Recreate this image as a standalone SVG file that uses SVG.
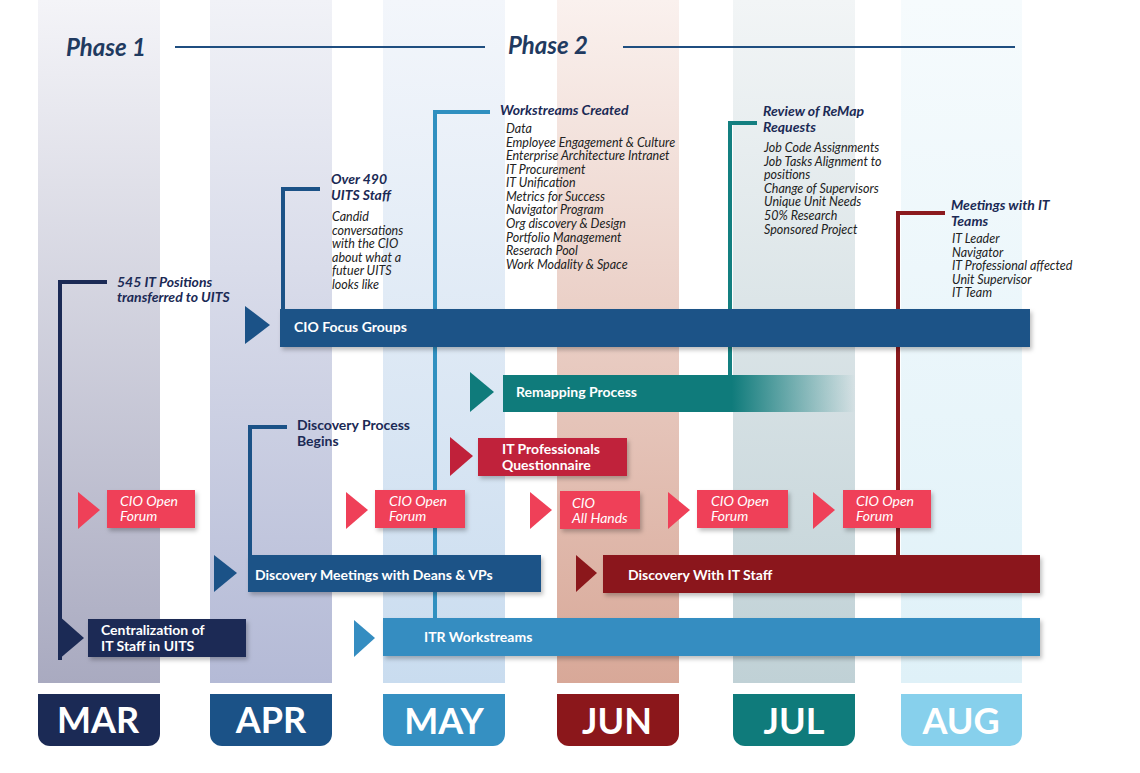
<svg xmlns="http://www.w3.org/2000/svg" width="1140" height="773" viewBox="0 0 1140 773">
<defs>
<linearGradient id="gMar" x1="0" y1="0" x2="0" y2="1"><stop offset="0" stop-color="#f4f4f8"/><stop offset="1" stop-color="#a9aac0"/></linearGradient>
<linearGradient id="gApr" x1="0" y1="0" x2="0" y2="1"><stop offset="0" stop-color="#f1f2f7"/><stop offset="1" stop-color="#b4bad6"/></linearGradient>
<linearGradient id="gMay" x1="0" y1="0" x2="0" y2="1"><stop offset="0" stop-color="#f3f6fb"/><stop offset="1" stop-color="#c9dcef"/></linearGradient>
<linearGradient id="gJun" x1="0" y1="0" x2="0" y2="1"><stop offset="0" stop-color="#faf1ee"/><stop offset="1" stop-color="#d8a898"/></linearGradient>
<linearGradient id="gJul" x1="0" y1="0" x2="0" y2="1"><stop offset="0" stop-color="#f2f5f6"/><stop offset="1" stop-color="#c0d1d6"/></linearGradient>
<linearGradient id="gAug" x1="0" y1="0" x2="0" y2="1"><stop offset="0" stop-color="#f6fbfd"/><stop offset="1" stop-color="#dff1f8"/></linearGradient>
<linearGradient id="gRemap" x1="0" y1="0" x2="1" y2="0"><stop offset="0" stop-color="#0f7b7b"/><stop offset="0.65" stop-color="#0f7b7b"/><stop offset="1" stop-color="#0f7b7b" stop-opacity="0"/></linearGradient>
<filter id="sh" x="-10%" y="-20%" width="120%" height="150%"><feDropShadow dx="2" dy="3" stdDeviation="2" flood-color="#000" flood-opacity="0.25"/></filter>
</defs>
<style>
text{font-family:Lato,"Open Sans","Liberation Sans",sans-serif}
.phase{font-size:24px;font-weight:700;font-style:italic;fill:#1f3a60}
.hd{font-size:14px;font-weight:700;font-style:italic;fill:#1b2a55}
.li{font-size:12.5px;font-style:italic;fill:#222}
.bt{font-size:14px;font-weight:700;fill:#fff}
.ft{font-size:14px;font-style:italic;fill:#fff}
.mo{font-size:36px;font-weight:700;fill:#fff;text-anchor:middle}
.ln{fill:none;stroke-width:4}
</style>
<rect width="1140" height="773" fill="#fff"/>
<g id="columns">
<rect x="38" y="0" width="122" height="683" fill="url(#gMar)"/>
<rect x="210" y="0" width="122" height="683" fill="url(#gApr)"/>
<rect x="383" y="0" width="122" height="683" fill="url(#gMay)"/>
<rect x="557" y="0" width="122" height="683" fill="url(#gJun)"/>
<rect x="733" y="0" width="122" height="683" fill="url(#gJul)"/>
<rect x="901" y="0" width="121" height="683" fill="url(#gAug)"/>
</g>
<g id="phases">
<text class="phase" x="66" y="56">Phase 1</text>
<line x1="175" y1="47" x2="485" y2="47" stroke="#1f4e80" stroke-width="2"/>
<text class="phase" x="508" y="54">Phase 2</text>
<line x1="623" y1="47" x2="1015" y2="47" stroke="#1f4e80" stroke-width="2"/>
</g>
<g id="connectors">
<path class="ln" stroke="#1b2a55" d="M60,660 V282 H107"/>
<path class="ln" stroke="#1b5287" d="M283,309 V189 H320"/>
<path class="ln" stroke="#3090c0" d="M435,618 V112 H490"/>
<path class="ln" stroke="#137f80" d="M730,375 V123 H757"/>
<path class="ln" stroke="#8b1a1e" d="M898,555 V213 H945"/>
<path class="ln" stroke="#1b5287" d="M250,555 V427 H287"/>
</g>
<g id="n-545"><text class="hd" x="117" y="287">545 IT Positions</text><text class="hd" x="117" y="302">transferred to UITS</text></g>
<g id="n-490">
<text class="hd" x="331" y="184">Over 490</text><text class="hd" x="331" y="200">UITS Staff</text>
<text class="li"><tspan x="332" y="221">Candid</tspan><tspan x="332" y="235">conversations</tspan><tspan x="332" y="248">with the CIO</tspan><tspan x="332" y="262">about what a</tspan><tspan x="332" y="275">futuer UITS</tspan><tspan x="332" y="289">looks like</tspan></text>
</g>
<g id="n-workstreams">
<text class="hd" x="500" y="115">Workstreams Created</text>
<text class="li"><tspan x="506" y="133">Data</tspan><tspan x="506" y="147">Employee Engagement &amp; Culture</tspan><tspan x="506" y="160">Enterprise Architecture Intranet</tspan><tspan x="506" y="174">IT Procurement</tspan><tspan x="506" y="187">IT Unification</tspan><tspan x="506" y="201">Metrics for Success</tspan><tspan x="506" y="214">Navigator Program</tspan><tspan x="506" y="228">Org discovery &amp; Design</tspan><tspan x="506" y="242">Portfolio Management</tspan><tspan x="506" y="255">Reserach Pool</tspan><tspan x="506" y="269">Work Modality &amp; Space</tspan></text>
</g>
<g id="n-review">
<text class="hd" x="763" y="116">Review of ReMap</text><text class="hd" x="763" y="132">Requests</text>
<text class="li"><tspan x="764" y="152">Job Code Assignments</tspan><tspan x="764" y="166">Job Tasks Alignment to</tspan><tspan x="764" y="179">positions</tspan><tspan x="764" y="193">Change of Supervisors</tspan><tspan x="764" y="206">Unique Unit Needs</tspan><tspan x="764" y="220">50% Research</tspan><tspan x="764" y="234">Sponsored Project</tspan></text>
</g>
<g id="n-meetings">
<text class="hd" x="951" y="210">Meetings with IT</text><text class="hd" x="951" y="226">Teams</text>
<text class="li"><tspan x="952" y="243">IT Leader</tspan><tspan x="952" y="257">Navigator</tspan><tspan x="952" y="270">IT Professional affected</tspan><tspan x="952" y="284">Unit Supervisor</tspan><tspan x="952" y="297">IT Team</tspan></text>
</g>
<g id="n-discbegins"><text class="hd" style="font-style:normal" x="297" y="430">Discovery Process</text><text class="hd" style="font-style:normal" x="297" y="446">Begins</text></g>
<g id="n-focus"><polygon points="245,306 270,325 245,344" fill="#1b5287"/><rect x="280" y="309" width="750" height="38" fill="#1b5287" filter="url(#sh)"/><text class="bt" x="294" y="332">CIO Focus Groups</text></g>
<g id="n-remap"><polygon points="470,372 494,392 470,412" fill="#0f7b7b"/><rect x="503" y="375" width="352" height="37" fill="url(#gRemap)"/><text class="bt" x="516" y="397">Remapping Process</text></g>
<g id="n-quest"><polygon points="450,437 473,456 450,476" fill="#c0213a"/><rect x="478" y="438" width="149" height="38" fill="#c0213a" filter="url(#sh)"/><text class="bt" x="502" y="454">IT Professionals</text><text class="bt" x="502" y="470">Questionnaire</text></g>
<g id="n-forum1"><polygon points="78,492 100,510 78,529" fill="#ef4058"/><rect x="107" y="490" width="88" height="38" fill="#ef4058" filter="url(#sh)"/><text class="ft" x="120" y="506">CIO Open</text><text class="ft" x="120" y="521">Forum</text></g>
<g id="n-forum2"><polygon points="346,492 368,510 346,529" fill="#ef4058"/><rect x="375" y="490" width="90" height="38" fill="#ef4058" filter="url(#sh)"/><text class="ft" x="389" y="506">CIO Open</text><text class="ft" x="389" y="521">Forum</text></g>
<g id="n-allhands"><polygon points="530,492 552,510 530,529" fill="#ef4058"/><rect x="560" y="491" width="80" height="38" fill="#ef4058" filter="url(#sh)"/><text class="ft" x="572" y="508">CIO</text><text class="ft" x="572" y="523">All Hands</text></g>
<g id="n-forum3"><polygon points="668,492 690,510 668,529" fill="#ef4058"/><rect x="697" y="490" width="91" height="38" fill="#ef4058" filter="url(#sh)"/><text class="ft" x="711" y="506">CIO Open</text><text class="ft" x="711" y="521">Forum</text></g>
<g id="n-forum4"><polygon points="813,492 835,510 813,529" fill="#ef4058"/><rect x="843" y="490" width="88" height="38" fill="#ef4058" filter="url(#sh)"/><text class="ft" x="856" y="506">CIO Open</text><text class="ft" x="856" y="521">Forum</text></g>
<g id="n-deans"><polygon points="214,555 237,573 214,592" fill="#1b5287"/><rect x="248" y="555" width="293" height="37" fill="#1b5287" filter="url(#sh)"/><text class="bt" x="255" y="580">Discovery Meetings with Deans &amp; VPs</text></g>
<g id="n-itstaff"><polygon points="576,555 597,573 576,592" fill="#8b171b"/><rect x="603" y="555" width="437" height="38" fill="#8b171b" filter="url(#sh)"/><text class="bt" x="628" y="580">Discovery With IT Staff</text></g>
<g id="n-itr"><polygon points="354,620 375,638 354,657" fill="#358dc1"/><rect x="383" y="618" width="657" height="38" fill="#358dc1" filter="url(#sh)"/><text class="bt" x="424" y="642">ITR Workstreams</text></g>
<g id="n-central"><polygon points="58,615 84,638 58,660" fill="#1b2a55"/><rect x="88" y="619" width="158" height="38" fill="#1b2a55" filter="url(#sh)"/><text class="bt" x="101" y="635">Centralization of</text><text class="bt" x="101" y="651">IT Staff in UITS</text></g>
<g id="months">
<path d="M38,694 H160 V734 a12,12 0 0 1 -12,12 H50 a12,12 0 0 1 -12,-12 Z" fill="#1b2a55"/><text class="mo" x="98" y="733">MAR</text>
<path d="M210,694 H332 V734 a12,12 0 0 1 -12,12 H222 a12,12 0 0 1 -12,-12 Z" fill="#1b5287"/><text class="mo" x="271" y="733">APR</text>
<path d="M383,694 H505 V734 a12,12 0 0 1 -12,12 H395 a12,12 0 0 1 -12,-12 Z" fill="#3590c2"/><text class="mo" x="444" y="734">MAY</text>
<path d="M557,694 H679 V734 a12,12 0 0 1 -12,12 H569 a12,12 0 0 1 -12,-12 Z" fill="#8b171b"/><text class="mo" x="617" y="734">JUN</text>
<path d="M733,694 H855 V734 a12,12 0 0 1 -12,12 H745 a12,12 0 0 1 -12,-12 Z" fill="#0f7b7b"/><text class="mo" x="794" y="734">JUL</text>
<path d="M901,694 H1022 V734 a12,12 0 0 1 -12,12 H913 a12,12 0 0 1 -12,-12 Z" fill="#87d0ec"/><text class="mo" x="961" y="734">AUG</text>
</g>
</svg>
